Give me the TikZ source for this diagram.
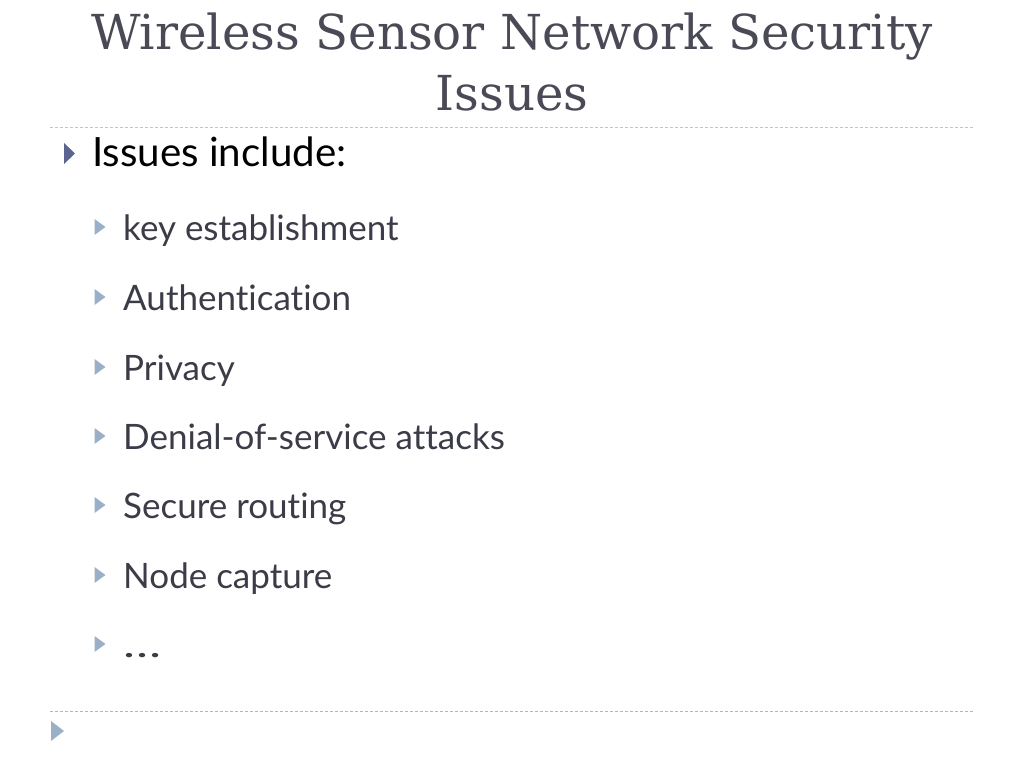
\documentclass[tikz,border=0pt]{standalone}
\usepackage{fontspec}
\usepackage{graphicx}
\setmainfont{Lato}[Ligatures={NoCommon}]
\newfontfamily\titlefont{DejaVu Serif}
\definecolor{titlegray}{HTML}{4A4A56}
\definecolor{bodygray}{HTML}{3C3C48}
\definecolor{bulletdark}{HTML}{5A6490}
\definecolor{bulletlight}{HTML}{9AB0C8}
\definecolor{ruletop}{HTML}{C4C4C8}
\definecolor{rulebottom}{HTML}{A8B8CC}
\begin{document}
\begin{tikzpicture}[x=1pt,y=-1pt,
  titletext/.style={anchor=base,inner sep=0pt,text=titlegray,font=\titlefont\fontsize{48.2}{55}\selectfont},
  mainitem/.style={anchor=base west,inner sep=0pt,text=black,font=\fontsize{40.3}{46}\selectfont},
  subitem/.style={anchor=base west,inner sep=0pt,text=bodygray,font=\fontsize{35}{40}\selectfont},
  rule/.style={line width=1pt,dash pattern=on 3pt off 2pt}]
\useasboundingbox (0,0) rectangle (1024,768);
\fill[white] (0,0) rectangle (1024,768);
% title
\node[titletext] (t1) at (512,49) {Wireless Sensor Network Security};
\node[titletext] (t2) at (512,110) {Issues};
% rules
\draw[rule,ruletop] (50,127.5) -- (973,127.5);
\draw[rule,rulebottom] (50,711.5) -- (973,711.5);
% main bullet
\fill[bulletdark] (64,143) -- (75,153.5) -- (64,164) -- cycle;
\node[mainitem] (m) at (92,166) {Issues include:};
% sub bullets
\foreach \y/\txt/\nm in {240/key establishment/s1, 310/Authentication/s2, 380/Privacy/s3, 449/Denial-of-service attacks/s4, 518/Secure routing/s5, 588/Node capture/s6, 657/\scalebox{1.45}[1]{…}/s7}{
  \fill[bulletlight] (94.5,\y-21) -- (105.5,\y-13) -- (94.5,\y-5) -- cycle;
  \node[subitem] (\nm) at (123,\y) {\txt};
}
% footer bullet
\fill[bulletlight] (51,721) -- (64,731) -- (51,741) -- cycle;
\end{tikzpicture}
\end{document}
